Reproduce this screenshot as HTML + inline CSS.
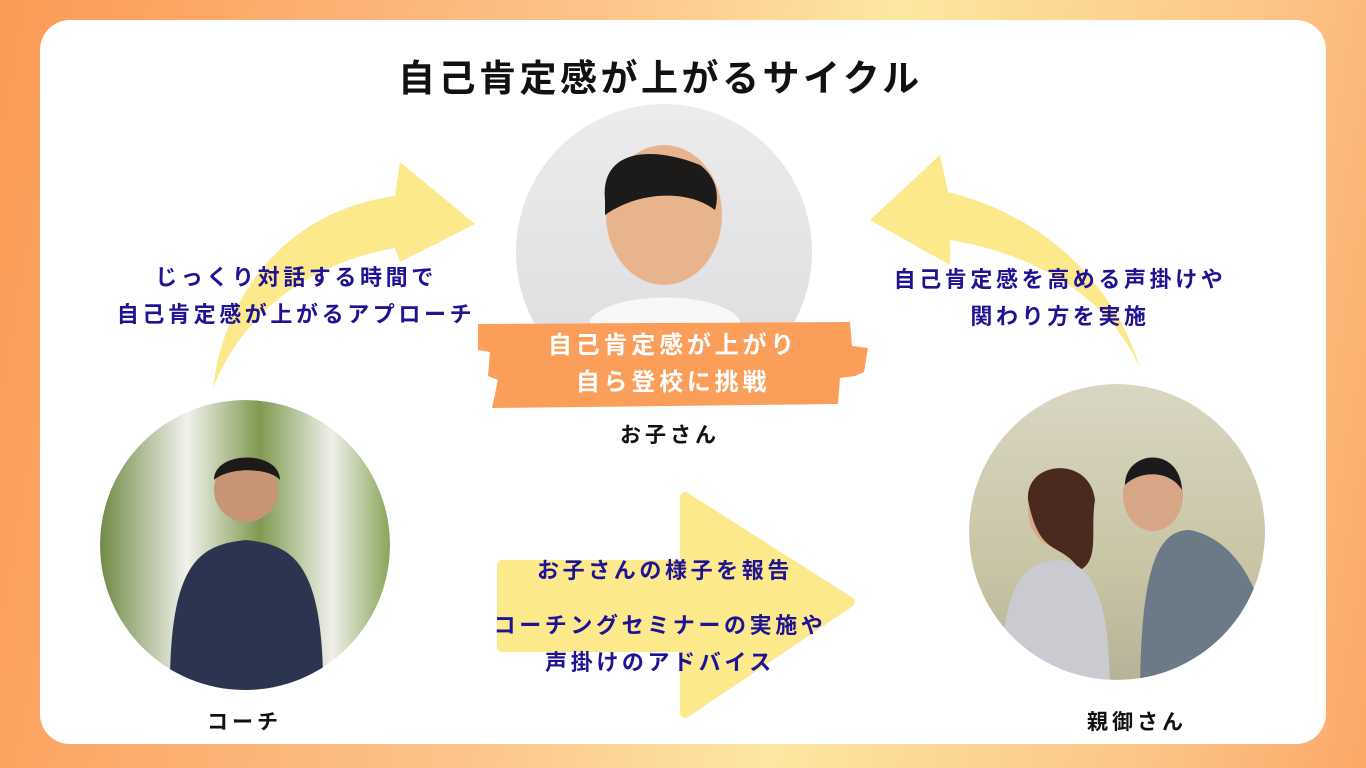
<!DOCTYPE html>
<html><head><meta charset="utf-8"><style>
*{margin:0;padding:0}
body{width:1366px;height:768px;overflow:hidden;background:linear-gradient(100deg,#fb9a55 0%,#fdc48a 40%,#fde7a0 60%,#fcc586 85%,#fba868 100%);font-family:"Liberation Sans","Noto Sans CJK JP",sans-serif;position:relative}
.card{position:absolute;left:40px;top:20px;width:1286px;height:724px;background:#fff;border-radius:30px}
.t{position:absolute;white-space:nowrap;font-weight:bold}
.blue{color:#1f1393;font-size:22px;letter-spacing:3.6px;text-align:center;line-height:37px}
</style></head><body>
<div class="card"></div>
<svg width="1366" height="768" style="position:absolute;left:0;top:0">
<defs>
<linearGradient id="kid" x1="0" y1="0" x2="0" y2="1"><stop offset="0" stop-color="#ececee"/><stop offset="1" stop-color="#dcdcde"/></linearGradient>
<linearGradient id="coach" x1="0" y1="0" x2="1" y2="0"><stop offset="0" stop-color="#6f8a45"/><stop offset=".3" stop-color="#f2f2ee"/><stop offset=".55" stop-color="#7f9a50"/><stop offset=".8" stop-color="#f0f0ea"/><stop offset="1" stop-color="#8aa55a"/></linearGradient>
<linearGradient id="par" x1="0" y1="0" x2="0" y2="1"><stop offset="0" stop-color="#d9d6c4"/><stop offset=".6" stop-color="#c9c5a6"/><stop offset="1" stop-color="#b7b39a"/></linearGradient>
<clipPath id="c1"><circle cx="664" cy="252" r="148"/></clipPath>
<clipPath id="c2"><circle cx="245" cy="545" r="145"/></clipPath>
<clipPath id="c3"><circle cx="1117" cy="532" r="148"/></clipPath>
</defs>
<path d="M213 388 C225 290 290 210 395 196 L400 162 L475 224 L400 262 L395 248 C300 265 240 320 213 388 Z" fill="#fbe98c"/>
<path d="M1140 368 C1120 300 1060 220 948 192 L940 155 L870 220 L950 265 L950 240 C1040 255 1110 300 1140 368 Z" fill="#fbe98c"/>
<path d="M502 565 L685 565 L685 497 L850 602 L685 713 L685 647 L502 647 Z" fill="#fbe98c" stroke="#fbe98c" stroke-width="10" stroke-linejoin="round"/>
<g clip-path="url(#c1)">
<circle cx="664" cy="252" r="148" fill="url(#kid)"/>
<ellipse cx="664" cy="215" rx="58" ry="70" fill="#e8b48e"/>
<path d="M605 200 C600 150 650 145 700 165 C720 180 718 200 715 210 C690 190 640 190 605 215Z" fill="#1d1a1a"/>
<path d="M590 320 C610 290 720 290 740 320 L740 400 L590 400Z" fill="#f8f8f8"/>
</g>
<g clip-path="url(#c2)">
<circle cx="245" cy="545" r="145" fill="url(#coach)"/>
<circle cx="246" cy="490" r="32" fill="#c89574"/>
<path d="M214 480 C214 450 280 450 280 480 C270 468 230 466 214 480Z" fill="#1e1a18"/>
<path d="M170 700 C168 560 200 545 246 540 C292 545 325 560 323 700Z" fill="#2b3550"/>
</g>
<g clip-path="url(#c3)">
<circle cx="1117" cy="532" r="148" fill="url(#par)"/>
<ellipse cx="1060" cy="510" rx="32" ry="38" fill="#d8a888"/>
<path d="M1028 500 C1025 460 1090 455 1095 500 C1090 530 1100 560 1080 570 C1060 540 1040 560 1028 500Z" fill="#4a2a1e"/>
<ellipse cx="1153" cy="495" rx="30" ry="36" fill="#d6a686"/>
<path d="M1125 485 C1125 450 1180 445 1182 490 C1170 470 1140 470 1125 485Z" fill="#1b1b1b"/>
<path d="M1000 700 C1000 590 1020 560 1060 560 C1095 565 1110 600 1110 700Z" fill="#c9cbd0"/>
<path d="M1140 700 C1140 560 1160 530 1190 530 C1240 540 1265 600 1265 640 L1265 700Z" fill="#6c7a88"/>
</g>
<path d="M478 324 L850 322 L852 346 L868 348 L864 372 L855 376 L840 378 L838 404 L492 408 L498 380 L488 376 L490 352 L478 350Z" fill="#fa9e5a"/>
</svg>
<div class="t" style="left:398px;top:48px;font-size:37px;letter-spacing:3.5px;color:#111">自己肯定感が上がるサイクル</div>
<div class="t blue" style="left:96px;top:259px;width:400px">じっくり対話する時間で<br>自己肯定感が上がるアプローチ</div>
<div class="t blue" style="left:875px;top:261px;width:370px">自己肯定感を高める声掛けや<br>関わり方を実施</div>
<div class="t" style="left:478px;top:327px;width:390px;text-align:center;color:#fff;font-size:24px;letter-spacing:3.8px;line-height:37px">自己肯定感が上がり<br>自ら登校に挑戦</div>
<div class="t" style="left:620px;top:419px;font-size:21px;letter-spacing:4px;color:#111">お子さん</div>
<div class="t" style="left:207px;top:706px;font-size:21px;letter-spacing:4px;color:#111">コーチ</div>
<div class="t" style="left:1087px;top:706px;font-size:21px;letter-spacing:4px;color:#111">親御さん</div>
<div class="t blue" style="left:480px;top:552px;width:370px">お子さんの様子を報告</div>
<div class="t blue" style="left:475px;top:607px;width:370px">コーチングセミナーの実施や<br>声掛けのアドバイス</div>
</body></html>
